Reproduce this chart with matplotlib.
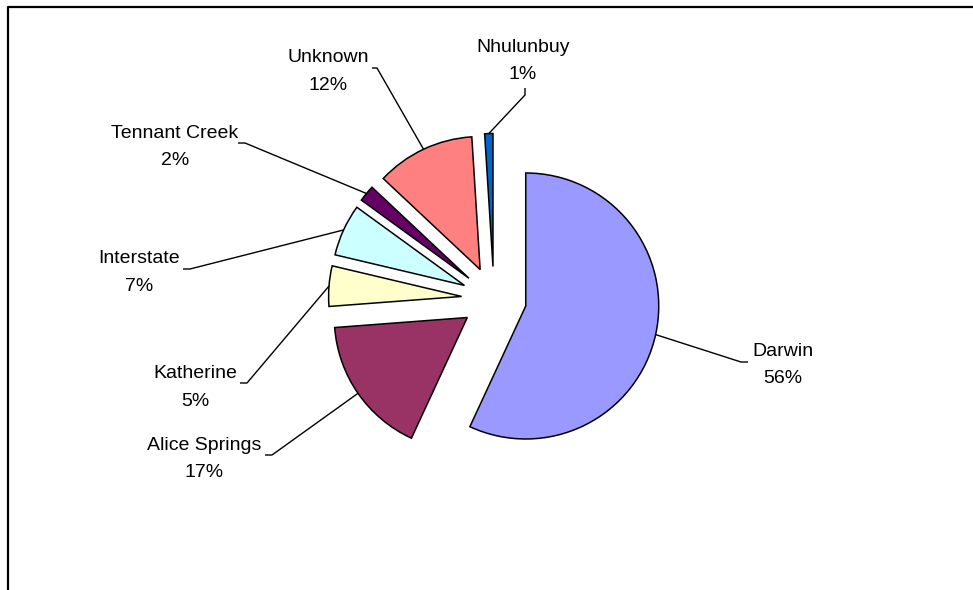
"""Exploded pie of cases by region (NT), redrawn in matplotlib."""
import numpy as np
import matplotlib
matplotlib.use("Agg")
import matplotlib.pyplot as plt

# --- data ---
REGIONS = ["Darwin", "Alice Springs", "Katherine", "Interstate",
           "Tennant Creek", "Unknown", "Nhulunbuy"]
# slice sizes as drawn (%), and the percentages printed on the labels
SHARES = [56.9, 16.9, 4.9, 6.3, 2.0, 12.0, 1.0]
SHARE_LABELS = ["56%", "17%", "5%", "7%", "2%", "12%", "1%"]
COLORS = ["#9999FF", "#993366", "#FFFFCC", "#CCFFFF",
          "#660066", "#FF8080", "#0066CC"]

# --- layout (image pixels, y down) ---
W, H = 973, 590
CENTER = (494, 299)
RADIUS = 133
EXPLODE = 32.5
FONT = 14
# label: text centre x, first baseline, second baseline
LABEL_POS = [(783, 356, 383), (204, 450, 477), (195, 378, 406),
             (139, 263, 291), (175, 138, 165), (328, 62, 90), (523, 52, 79)]
# leader line: elbow point, stub end
LEADER = [((741, 362), (748, 362)), ((272, 455), (265, 455)),
          ((247, 383), (240, 383)), ((190, 269), (183, 269)),
          ((245, 143), (238, 143)), ((377, 68), (372, 68)),
          ((525, 95), (525, 88))]


def px(x, y):
    """Image pixel (y down) -> data coords (y up)."""
    return x, H - y


plt.rcParams["font.family"] = ["Liberation Sans", "DejaVu Sans"]

fig = plt.figure(figsize=(W / 100, H / 100), dpi=100)
ax = fig.add_axes([0, 0, 1, 1])

wedges, _ = ax.pie(
    SHARES, colors=COLORS, startangle=90, counterclock=False,
    radius=RADIUS, center=px(*CENTER), explode=[EXPLODE] * len(SHARES),
    wedgeprops=dict(edgecolor="black", linewidth=1.1),
)
ax.set_xlim(0, W)
ax.set_ylim(0, H)
ax.set_aspect("equal")
ax.axis("off")

for w, name, pct, (tx, b1, b2), (elbow, stub) in zip(
        wedges, REGIONS, SHARE_LABELS, LABEL_POS, LEADER):
    # leader starts on the wedge's outer arc at its mid angle
    mid = np.deg2rad(0.5 * (w.theta1 + w.theta2))
    cx, cy = w.center
    sx = cx + w.r * np.cos(mid)
    sy = cy + w.r * np.sin(mid)
    ex, ey = px(*elbow)
    qx, qy = px(*stub)
    ax.plot([sx, ex, qx], [sy, ey, qy], color="black", linewidth=1.0,
            solid_capstyle="butt")
    ax.text(*px(tx, b1), name, ha="center", va="baseline", fontsize=FONT)
    ax.text(*px(tx, b2), pct, ha="center", va="baseline", fontsize=FONT)

# chart-area border (only top and left edges fall inside the crop)
ax.plot([px(8, 0)[0], px(8, 7)[0], px(W, 7)[0]],
        [px(8, H)[1], px(8, 7)[1], px(W, 7)[1]],
        color="black", linewidth=1.6, clip_on=False)

fig.savefig("out.png", dpi=100)
